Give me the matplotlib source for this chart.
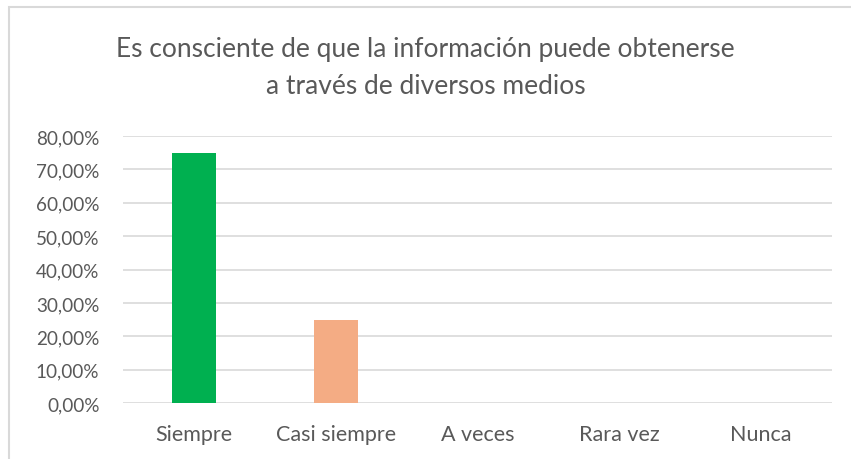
import matplotlib.pyplot as plt
from matplotlib.patches import Rectangle
from matplotlib.ticker import FuncFormatter

categories = ["Siempre", "Casi siempre", "A veces", "Rara vez", "Nunca"]
values = [0.75, 0.25, 0.0, 0.0, 0.0]
colors = ["#00B050", "#F4AC84", "#A5A5A5", "#FFC000", "#5B9BD5"]
title = "Es consciente de que la información puede obtenerse\na través de diversos medios"

plt.rcParams["font.family"] = ["Lato", "DejaVu Sans"]
text_color = "#595959"

fig = plt.figure(figsize=(8.51, 4.60), dpi=100)
# outer chart border (light gray)
fig.patches.append(Rectangle((9 / 851, -0.05), 1.2, 1 - 8 / 460 + 0.05,
                             transform=fig.transFigure, fill=False,
                             edgecolor="#D9D9D9", linewidth=1.5))

ax = fig.add_axes([123 / 851, 1 - 404 / 460, (832 - 123) / 851, (404 - 137) / 460])
x = range(len(categories))
ax.bar(x, values, width=0.31, color=colors, zorder=3)

ax.set_xlim(-0.5, len(categories) - 0.5)
ax.set_ylim(0, 0.8)
ax.set_yticks([i / 10 for i in range(9)])
ax.yaxis.set_major_formatter(FuncFormatter(lambda v, p: f"{v * 100:.2f}%".replace(".", ",")))
ax.set_xticks(list(x))
ax.set_xticklabels(categories)
ax.grid(axis="y", color="#D9D9D9", linewidth=1.2, zorder=0)
for s in ax.spines.values():
    s.set_visible(False)
ax.tick_params(axis="y", length=0, labelsize=13.6, colors=text_color, pad=17)
ax.tick_params(axis="x", length=0, labelsize=15.5, colors=text_color, pad=15)

fig.text(0.5, 1 - 68 / 460, title, ha="center", va="center", fontsize=19,
         color=text_color, linespacing=1.6)

fig.savefig("out.png", dpi=100)
